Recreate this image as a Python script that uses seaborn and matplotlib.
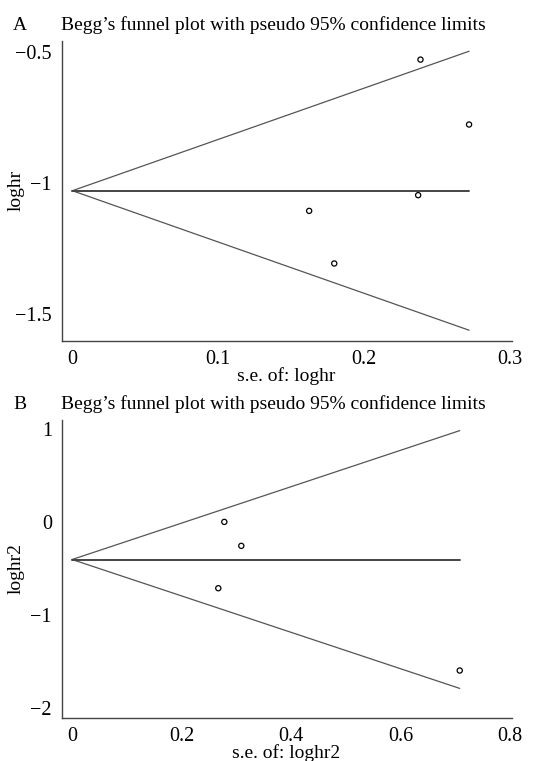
import numpy as np
import pandas as pd
import matplotlib
matplotlib.use("Agg")
import matplotlib.pyplot as plt
import seaborn as sns

# ==========================================
# Data
# ==========================================
# Panel A: log hazard ratio vs its standard error
se_a = [0.2386, 0.2719, 0.2370, 0.1623, 0.1795]
loghr_a = [-0.528, -0.776, -1.046, -1.106, -1.307]
pooled_a = -1.029

# Panel B: loghr2 vs its standard error
se_b = [0.278, 0.309, 0.267, 0.708]
loghr_b = [0.0, -0.258, -0.714, -1.600]
pooled_b = -0.405

panel_letters = ["A", "B"]
title_text = "Begg\u2019s funnel plot with pseudo 95% confidence limits"
y_labels = ["loghr", "loghr2"]
x_labels = ["s.e. of: loghr", "s.e. of: loghr2"]
x_ticks = [[0, 0.1, 0.2, 0.3], [0, 0.2, 0.4, 0.6, 0.8]]
x_ticklabels = [["0", "0.1", "0.2", "0.3"], ["0", "0.2", "0.4", "0.6", "0.8"]]
y_ticks = [[-0.5, -1, -1.5], [1, 0, -1, -2]]
y_ticklabels = [["\u22120.5", "\u22121", "\u22121.5"], ["1", "0", "\u22121", "\u22122"]]


def funnel_frame(se, pooled):
    # pseudo 95% limits: pooled +/- 1.96 * se, drawn from se = 0 to max se
    grid = np.array([0.0, max(se)])
    rows = []
    for s in grid:
        rows.append({"se": s, "value": pooled + 1.96 * s, "line": "upper"})
        rows.append({"se": s, "value": pooled - 1.96 * s, "line": "lower"})
        rows.append({"se": s, "value": pooled, "line": "pooled"})
    return pd.DataFrame(rows)


def draw_panel(ax, se, vals, pooled, idx, xlim, ylim):
    lines = funnel_frame(se, pooled)
    sns.lineplot(data=lines[lines.line != "pooled"], x="se", y="value", units="line",
                 estimator=None, color="#555555", lw=0.9, ax=ax)
    sns.lineplot(data=lines[lines.line == "pooled"], x="se", y="value",
                 estimator=None, color="#444444", lw=1.4, ax=ax)
    pts = pd.DataFrame({"se": se, "value": vals})
    sns.scatterplot(data=pts, x="se", y="value", marker="o", s=14,
                    facecolor="none", edgecolor="black", linewidth=0.9, ax=ax)

    ax.set_xlim(*xlim)
    ax.set_ylim(*ylim)
    ax.set_xticks(x_ticks[idx])
    ax.set_xticklabels(x_ticklabels[idx])
    ax.set_yticks(y_ticks[idx])
    ax.set_yticklabels(y_ticklabels[idx])
    ax.set_xlabel(x_labels[idx], fontsize=14, labelpad=-1)
    ax.set_ylabel(y_labels[idx], fontsize=14)
    ax.yaxis.set_label_coords(-0.083, 0.5)
    ax.tick_params(axis="both", labelsize=14.5, length=5, width=0.9,
                   color="#444444", direction="out")
    ax.tick_params(axis="x", pad=1.5)
    ax.tick_params(axis="y", pad=2)
    for side in ["top", "right"]:
        ax.spines[side].set_visible(False)
    for side in ["left", "bottom"]:
        ax.spines[side].set_color("#444444")
        ax.spines[side].set_linewidth(1.0)
    ax.set_title(title_text, fontsize=14, pad=8, x=0.47)
    ax.text(-0.108, 1.038, panel_letters[idx], transform=ax.transAxes, fontsize=14)


sns.set_theme(style="white")
plt.rcParams["font.family"] = ["Liberation Serif", "DejaVu Serif"]
plt.rcParams["text.color"] = "black"
plt.rcParams["axes.labelcolor"] = "black"
plt.rcParams["xtick.color"] = "black"
plt.rcParams["ytick.color"] = "black"

fig = plt.figure(figsize=(5.56, 7.61), dpi=100)
ax_a = fig.add_axes([0.111, 0.5523, 0.809, 0.3938])
ax_b = fig.add_axes([0.111, 0.0569, 0.809, 0.3912])

draw_panel(ax_a, se_a, loghr_a, pooled_a, 0, (-0.0073, 0.301), (-1.602, -0.457))
draw_panel(ax_b, se_b, loghr_b, pooled_b, 1, (-0.019, 0.8026), (-2.108, 1.097))

fig.savefig("out.png", dpi=100)
